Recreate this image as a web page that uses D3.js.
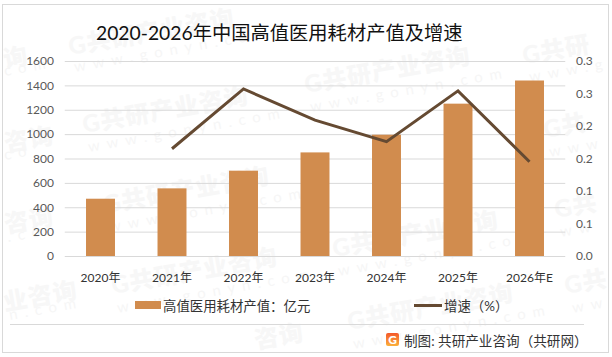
<!DOCTYPE html>
<html><head><meta charset="utf-8">
<script src="https://cdn.jsdelivr.net/npm/d3@7"></script>
<style>html,body{margin:0;padding:0;background:#fff}svg{display:block}text{font-family:Lato,"Noto Sans CJK SC",sans-serif}</style>
</head><body><svg id="c" width="612" height="357"></svg>
<script>
const categories=["2020年","2021年","2022年","2023年","2024年","2025年","2026年E"];
const outputValues=[470,555,700,850,995,1250,1440];
const growthValues=[null,0.165,0.257,0.209,0.176,0.254,0.145];
const leftTicks=[0,200,400,600,800,1000,1200,1400,1600];
const rightTicks=[0,0.05,0.10,0.15,0.20,0.25,0.30];
const rightTickLabels=["0.0","0.1","0.1","0.2","0.2","0.3","0.3"];
const titleText="2020-2026年中国高值医用耗材产值及增速";
const barName="高值医用耗材产值：亿元";
const lineName="增速（%）";
const sourceText="制图: 共研产业咨询（共研网）";
const full="G共研产业咨询", site="www.gonyn.com";
const wmMain=[[70,55,full],[84,133,full],[306,93,full],[524,64,"G共研"],[5,68,"询"],[6,152,"咨询"],[6,233,"咨询"],[5,311,"业咨询"],
 [105,213,full],[113,294,full],[334,257,full],[349,330,full],[256,349,"咨询"],[556,218,"G共"],[566,294,"G共"],[545,138,"G共"]];
const wmSub=[[75,72,site],[89,152,site],[311,112,site],[530,82,"www.g"],[5,76,"com"],[5,160,"co"],[8,242,".co"],[10,320,"n.com"],
 [110,232,site],[118,313,site],[339,276,site],[354,349,site],[561,237,"ww"],[573,313,"ww"],[550,157,"www"]];

const svg=d3.select("#c");
const x=d3.scaleBand().domain(categories).range([64.75,565.25]).paddingInner(0.595).paddingOuter(0.2975);
const y=d3.scaleLinear().domain([0,1600]).range([256,61]);
const y2=d3.scaleLinear().domain([0,0.3]).range([256,61]);
const cx=d=>x(d)+x.bandwidth()/2;

svg.append("rect").attr("x",2.5).attr("y",4.5).attr("width",606).attr("height",348).attr("fill","#fff").attr("stroke","#d9d9d9");

// watermark
svg.append("g").selectAll("text").data(wmMain).join("text")
 .attr("transform",d=>`translate(${d[0]},${d[1]}) rotate(-10)`).text(d=>d[2])
 .attr("font-size",24).attr("font-weight",900).attr("fill","#f7f7f7").attr("letter-spacing",1);
svg.append("g").selectAll("text").data(wmSub).join("text")
 .attr("transform",d=>`translate(${d[0]},${d[1]}) rotate(-10)`).text(d=>d[2])
 .attr("font-size",15).attr("fill","#f6f6f6").attr("letter-spacing",7);

// grid
svg.append("g").selectAll("line").data(leftTicks).join("line")
 .attr("x1",64.75).attr("x2",565.25).attr("y1",d=>y(d)+.5).attr("y2",d=>y(d)+.5).attr("stroke","#d9d9d9");

// axes
const axL=svg.append("g").attr("transform","translate(54,0)").call(d3.axisLeft(y).tickValues(leftTicks).tickSize(0).tickPadding(0).tickFormat(d3.format("d")));
const axR=svg.append("g").attr("transform","translate(576,0)").call(d3.axisRight(y2).tickValues(rightTicks).tickSize(0).tickPadding(0).tickFormat((d,i)=>rightTickLabels[i]));
const axB=svg.append("g").attr("transform","translate(0,282)").call(d3.axisBottom(x).tickSize(0).tickPadding(0));
[axL,axR,axB].forEach(a=>{a.select(".domain").remove();a.selectAll("text").style("font-family",'Lato,"Noto Sans CJK SC",sans-serif');});
axL.selectAll("text").attr("font-size",12).attr("fill","#595959");
axR.selectAll("text").attr("font-size",12).attr("fill","#595959");
axB.selectAll("text").attr("font-size",12).attr("fill","#333").attr("dy",0).attr("y",0);

// bars
svg.append("g").selectAll("rect").data(outputValues).join("rect")
 .attr("x",(d,i)=>x(categories[i])).attr("width",x.bandwidth())
 .attr("y",d=>y(d)).attr("height",d=>y(0)-y(d)).attr("fill","#d18c4e");

// line
const line=d3.line().defined(d=>d!=null).x((d,i)=>cx(categories[i])).y(d=>y2(d));
svg.append("path").datum(growthValues).attr("d",line).attr("fill","none").attr("stroke","#654a32").attr("stroke-width",3);

// title
svg.append("text").text(titleText).attr("x",96).attr("y",40).attr("font-size",19.3).attr("fill","#111");

// legend
svg.append("rect").attr("x",135).attr("y",301).attr("width",26).attr("height",8).attr("fill","#d18c4e");
svg.append("text").text(barName).attr("x",163).attr("y",311).attr("font-size",13.4).attr("fill","#333");
svg.append("line").attr("x1",414).attr("x2",442).attr("y1",305.5).attr("y2",305.5).attr("stroke","#654a32").attr("stroke-width",3);
svg.append("text").text(lineName).attr("x",444).attr("y",311).attr("font-size",13.4).attr("fill","#333");

// footer
svg.append("line").attr("x1",10).attr("x2",584).attr("y1",324.5).attr("y2",324.5).attr("stroke","#d9d9d9");
const defs=svg.append("defs").append("linearGradient").attr("id","lg").attr("x1",0).attr("y1",0).attr("x2",0).attr("y2",1);
defs.append("stop").attr("offset",0).attr("stop-color","#f4582a");
defs.append("stop").attr("offset",1).attr("stop-color","#fbb03b");
svg.append("rect").attr("x",386).attr("y",333).attr("width",13).attr("height",13).attr("rx",2).attr("fill","url(#lg)");
svg.append("text").text("G").attr("x",392.5).attr("y",344).attr("text-anchor","middle").attr("font-size",12).attr("font-weight",900).attr("fill","#fff");
svg.append("text").text(sourceText).attr("x",404).attr("y",346).attr("font-size",13.6).attr("fill","#333");
</script></body></html>
